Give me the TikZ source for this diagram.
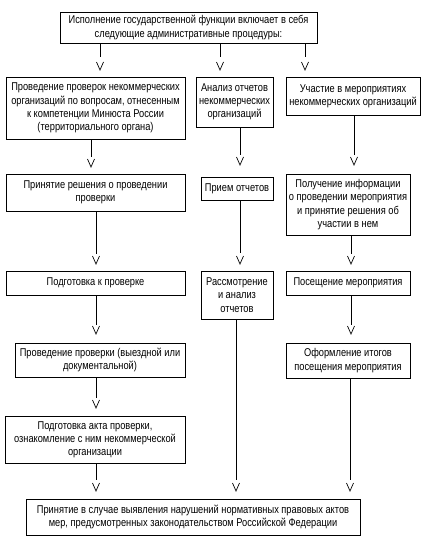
\documentclass[tikz,border=0pt]{standalone}
\usepackage{fontspec}
\setmainfont[FakeStretch=0.82]{Liberation Sans}
\begin{document}
\begin{tikzpicture}[x=1pt,y=-1pt,
  box/.style={draw, line width=0.8pt, align=center, inner sep=0pt,
    font=\fontsize{11.3}{13.2}\selectfont},
  conn/.style={line width=0.8pt},
  vtip/.style={line width=0.7pt}]
\useasboundingbox (0,0) rectangle (429,551);
\newcommand\vmark[2]{\draw[vtip] ({#1-3.5},{#2-8}) -- (#1,#2) -- ({#1+3.5},{#2-8});}
% boxes
\node[box, minimum width=257, minimum height=31] (top) at (188.5,27.5)
  {Исполнение государственной функции включает в себя\\следующие административные процедуры:};
\node[box, minimum width=179, minimum height=62] (L1) at (95.5,108)
  {Проведение проверок некоммерческих\\организаций по вопросам, отнесенным\\к компетенции Минюста России\\(территориального органа)};
\node[box, minimum width=77, minimum height=50] (M1) at (234.5,102)
  {Анализ отчетов\\некоммерческих\\организаций};
\node[box, minimum width=134, minimum height=38] (R1) at (353,96)
  {Участие в мероприятиях\\некоммерческих организаций};
\node[box, minimum width=179, minimum height=37] (L2) at (95.5,192.5)
  {Принятие решения о проведении\\проверки};
\node[box, minimum width=72, minimum height=23] (M2) at (237,188.5)
  {Прием отчетов};
\node[box, minimum width=124, minimum height=61] (R2) at (348,204.5)
  {Получение информации\\о проведении мероприятия\\и принятие решения об\\участии в нем};
\node[box, minimum width=179, minimum height=24] (L3) at (95.5,283)
  {Подготовка к проверке};
\node[box, minimum width=72, minimum height=48] (M3) at (237,295)
  {Рассмотрение\\и анализ\\отчетов};
\node[box, minimum width=124, minimum height=24] (R3) at (348,283)
  {Посещение мероприятия};
\node[box, minimum width=170, minimum height=34] (L4) at (100,360)
  {Проведение проверки (выездной или\\документальной)};
\node[box, minimum width=124, minimum height=35] (R4) at (348,360.5)
  {Оформление итогов\\посещения мероприятия};
\node[box, minimum width=180, minimum height=47] (L5) at (95,439.5)
  {Подготовка акта проверки,\\ознакомление с ним некоммерческой\\организации};
\node[box, minimum width=334, minimum height=36] (B) at (193,517)
  {Принятие в случае выявления нарушений нормативных правовых актов\\мер, предусмотренных законодательством Российской Федерации};
% connector ends
\coordinate (c1) at (100,57);  \coordinate (c2) at (220,57);  \coordinate (c3) at (305,57);
\coordinate (c4) at (91,157);  \coordinate (c5) at (240,155); \coordinate (c6) at (354,155);
\coordinate (c7) at (96,254);  \coordinate (c8) at (240,253); \coordinate (c9) at (351,254);
\coordinate (c10) at (96,325); \coordinate (c11) at (351,325);
\coordinate (c12) at (96,398);
\coordinate (c13) at (96,480); \coordinate (c14) at (236,480); \coordinate (c15) at (350,480);
\draw[conn] (top.south -| c1) -- (c1);
\draw[conn] (top.south -| c2) -- (c2);
\draw[conn] (top.south -| c3) -- (c3);
\draw[conn] (L1.south -| c4) -- (c4);
\draw[conn] (M1.south -| c5) -- (c5);
\draw[conn] (R1.south -| c6) -- (c6);
\draw[conn] (L2.south -| c7) -- (c7);
\draw[conn] (M2.south -| c8) -- (c8);
\draw[conn] (R2.south -| c9) -- (c9);
\draw[conn] (L3.south -| c10) -- (c10);
\draw[conn] (R3.south -| c11) -- (c11);
\draw[conn] (L4.south -| c12) -- (c12);
\draw[conn] (L5.south -| c13) -- (c13);
\draw[conn] (M3.south -| c14) -- (c14);
\draw[conn] (R4.south -| c15) -- (c15);
% open V heads
\vmark{100}{70}\vmark{220}{70}\vmark{305}{70}
\vmark{91}{167}\vmark{240}{165}\vmark{354}{165}
\vmark{96}{264}\vmark{240}{264}\vmark{351}{264}
\vmark{96}{334}\vmark{351}{334}
\vmark{96}{408}
\vmark{96}{491}\vmark{236}{491}\vmark{350}{491}
\end{tikzpicture}
\end{document}
